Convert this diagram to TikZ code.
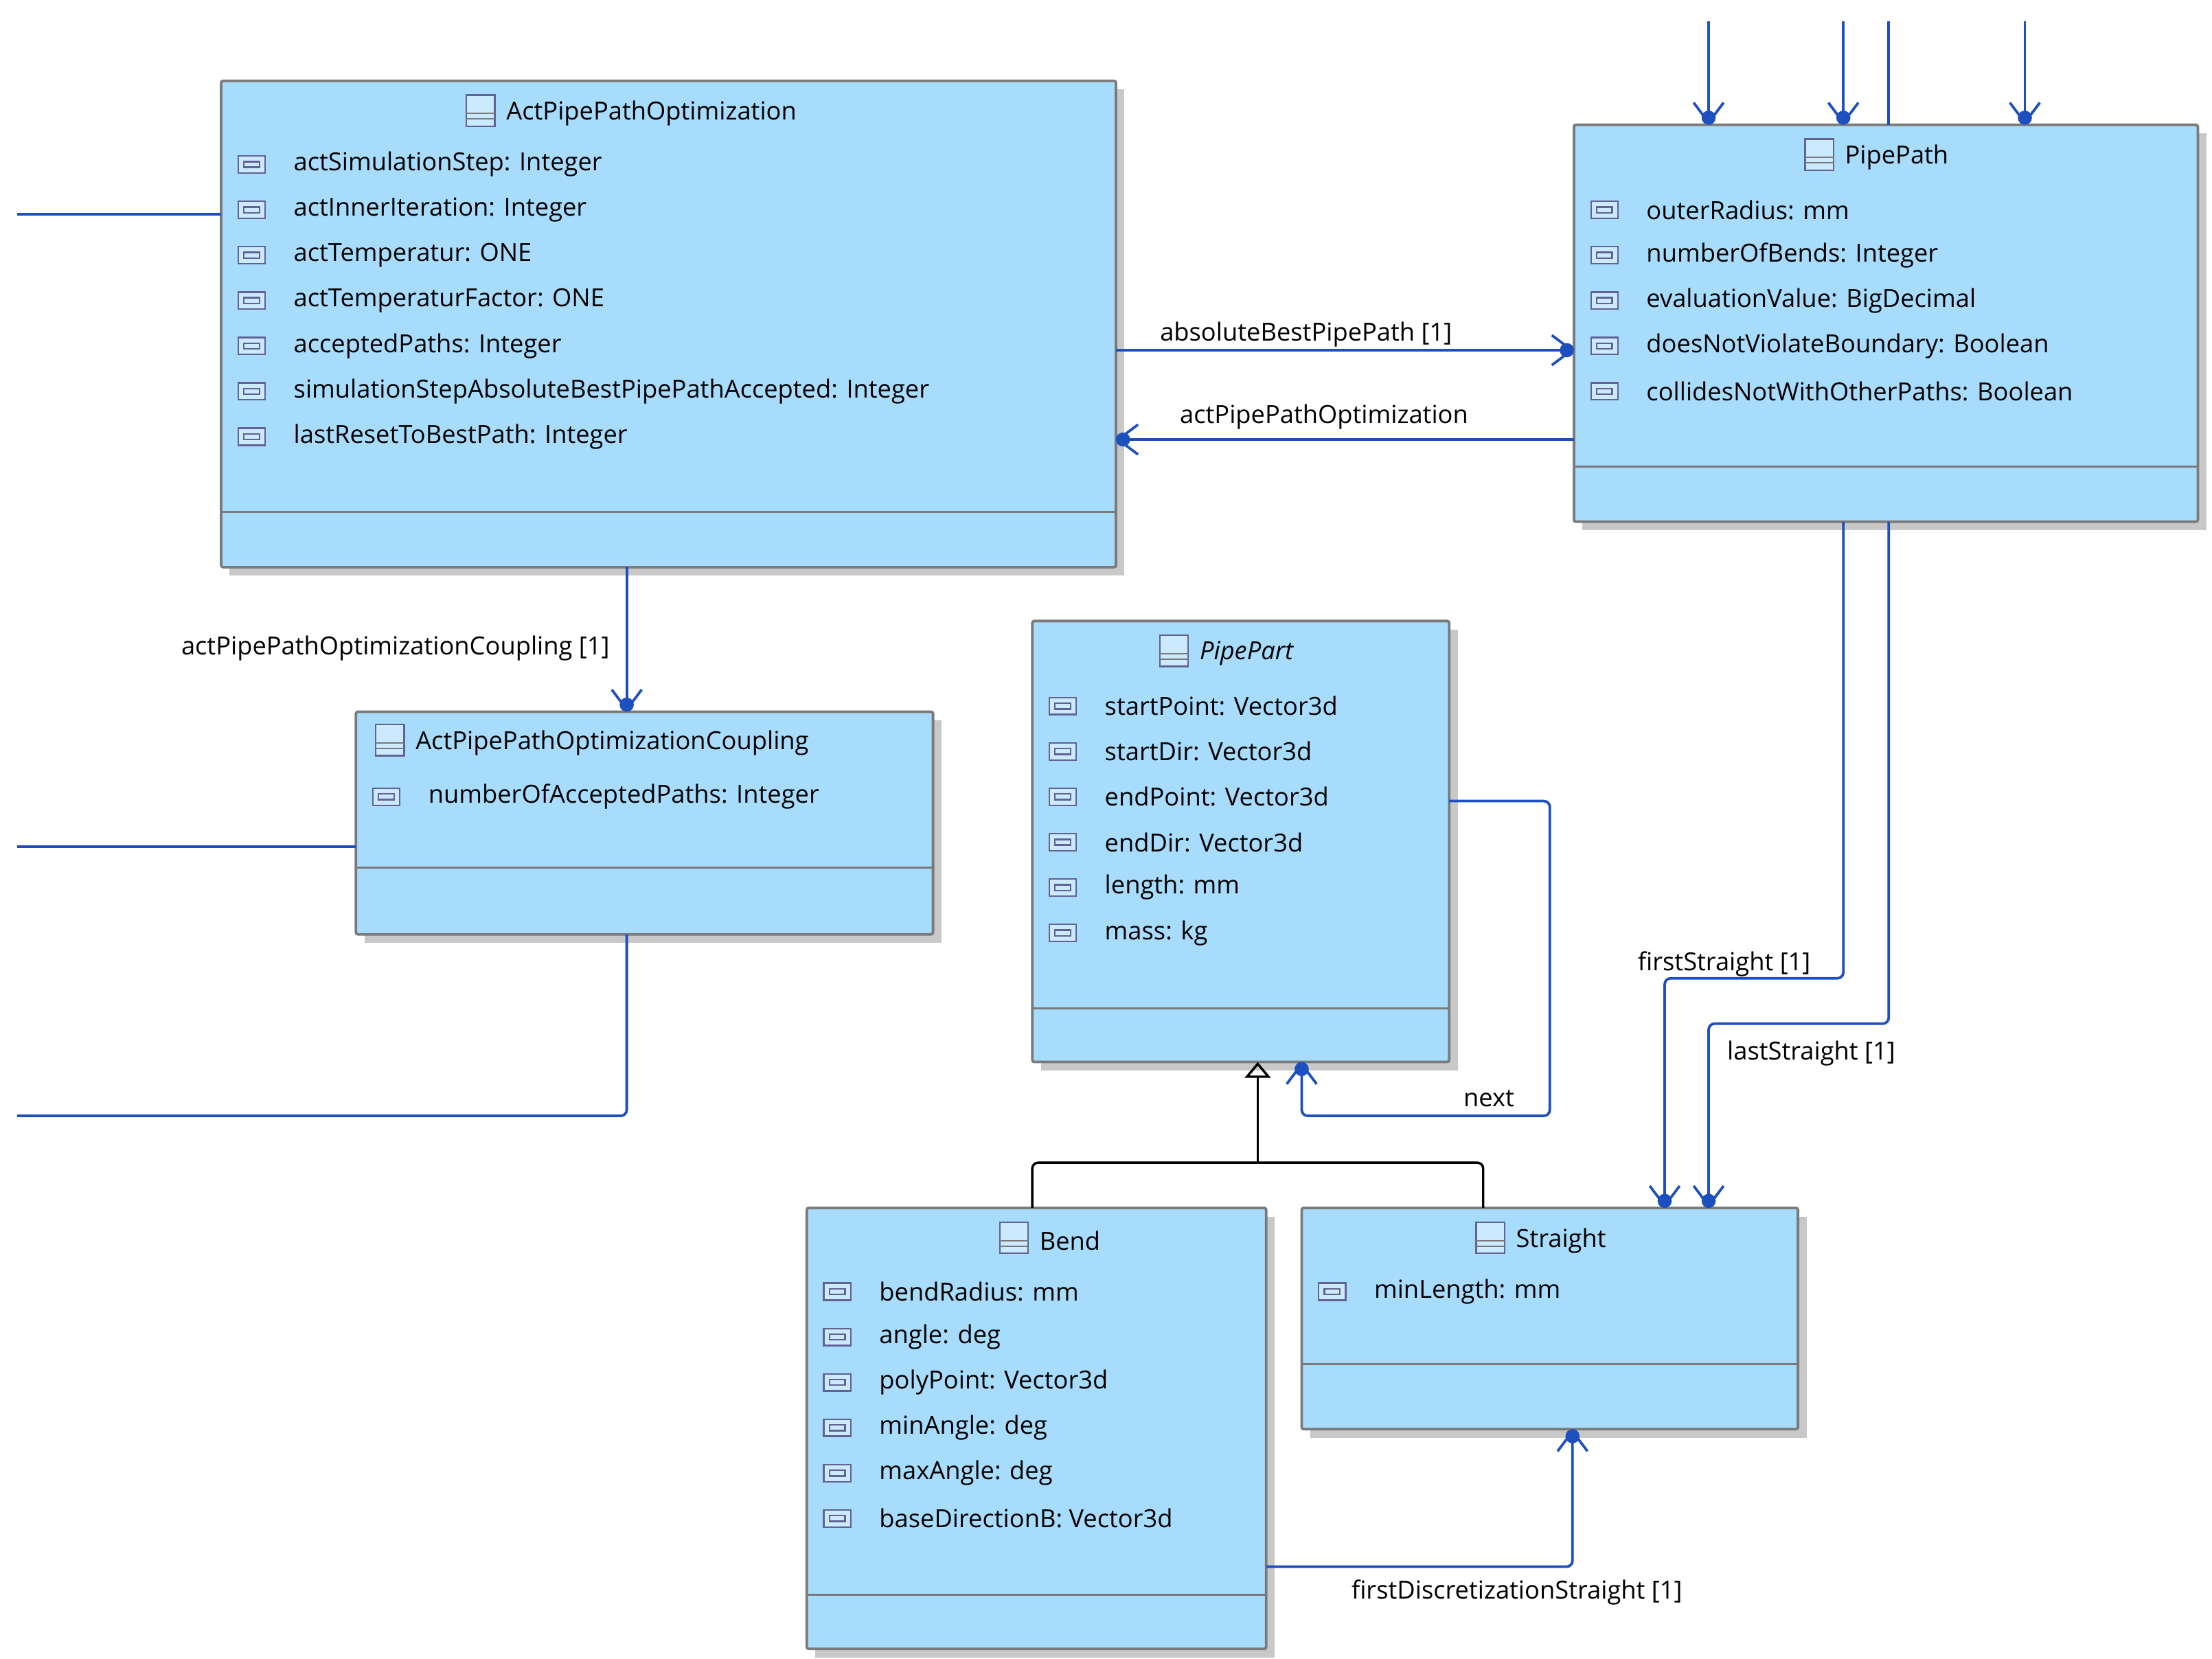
\documentclass[tikz,border=0pt]{standalone}
\usepackage{fontspec}
\setmainfont{Open Sans}
\usetikzlibrary{arrows.meta,calc}
\definecolor{cfill}{HTML}{A8DCFC}
\definecolor{cline}{HTML}{7A7A7A}
\definecolor{cblue}{HTML}{1E4FBF}
\definecolor{cshad}{HTML}{C8C8C8}
\begin{document}
\begin{tikzpicture}[x=0.05cm,y=-0.05cm,
  box/.style={draw=cline,fill=cfill,line width=2.6pt,inner sep=0pt,outer sep=0pt,rounded corners=2pt},
  sep/.style={draw=cline,line width=2pt},
  txt/.style={font=\fontsize{25}{30}\selectfont,inner sep=0pt,anchor=west},
  lbl/.style={font=\fontsize{25}{30}\selectfont,inner sep=0pt,text=black},
  conn/.style={draw=cblue,line width=2.6pt,rounded corners=6pt},
  nav/.style={conn,-{Straight Barb[length=20pt,width=30pt,line width=2.6pt]}},
  dot/.style={fill=cblue},
  icon/.style={draw=cline!80!blue,line width=1.6pt,fill=cfill!60!white}]
\useasboundingbox (0,0) rectangle (1560,1170);
\newcommand\mkbox[6]{% name, x1,y1,x2,y2
  \fill[cshad] (#2+6,#3+6) rectangle (#4+6,#5+6);
  \node[box,minimum width={(#4-#2)*0.05cm},minimum height={(#5-#3)*0.05cm}] (#1) at ({(#2+#4)/2},{(#3+#5)/2}) {};}
\newcommand\hsep[3]{\draw[sep] (#1,#3) -- (#2,#3);}
\newcommand\aicon[2]{\draw[icon] (#1,#2-6) rectangle (#1+19,#2+6); \draw[icon] (#1+4,#2-2) rectangle (#1+15,#2+2);}
\newcommand\cicon[2]{\draw[icon] (#1,#2-11) rectangle (#1+20,#2+11); \draw[cline,line width=1.4pt] (#1,#2+2)--(#1+20,#2+2) (#1,#2+6)--(#1+20,#2+6);}
\newcommand\attrs[3]{\foreach \t [count=\i from 0] in {#3} {\aicon{#1}{#2+32*\i}\node[txt] at (#1+39,#2+32*\i) {\t};}}
% ActPipePathOptimization
\mkbox{A}{156}{57}{787}{400}
\hsep{156}{787}{94}\hsep{156}{787}{361}
\cicon{329}{78}\node[txt] at (357,80) {ActPipePathOptimization};
\attrs{168}{116}{actSimulationStep: Integer,actInnerIteration: Integer,actTemperatur: ONE,actTemperaturFactor: ONE,acceptedPaths: Integer,simulationStepAbsoluteBestPipePathAccepted: Integer,lastResetToBestPath: Integer}
% PipePath
\mkbox{P}{1110}{88}{1550}{368}
\hsep{1110}{1550}{126}\hsep{1110}{1550}{329}
\cicon{1273}{109}\node[txt] at (1301,111) {PipePath};
\attrs{1122}{148}{outerRadius: mm,numberOfBends: Integer,evaluationValue: BigDecimal,doesNotViolateBoundary: Boolean,collidesNotWithOtherPaths: Boolean}
% Coupling
\mkbox{C}{251}{502}{658}{659}
\hsep{251}{658}{540}\hsep{251}{658}{612}
\cicon{265}{522}\node[txt] at (293,524) {ActPipePathOptimizationCoupling};
\attrs{263}{562}{numberOfAcceptedPaths: Integer}
% PipePart
\mkbox{PP}{728}{438}{1022}{749}
\hsep{728}{1022}{476}\hsep{728}{1022}{711}
\cicon{818}{459}\node[txt,font=\fontsize{25}{30}\selectfont\itshape] at (846,461) {PipePart};
\attrs{740}{498}{startPoint: Vector3d,startDir: Vector3d,endPoint: Vector3d,endDir: Vector3d,length: mm,mass: kg}
% Bend
\mkbox{B}{569}{852}{893}{1163}
\hsep{569}{893}{889}\hsep{569}{893}{1125}
\cicon{705}{873}\node[txt] at (733,875) {Bend};
\attrs{581}{911}{bendRadius: mm,angle: deg,polyPoint: Vector3d,minAngle: deg,maxAngle: deg,baseDirectionB: Vector3d}
% Straight
\mkbox{S}{918}{852}{1268}{1008}
\hsep{918}{1268}{889}\hsep{918}{1268}{962}
\cicon{1041}{873}\node[txt] at (1069,875) {Straight};
\attrs{930}{911}{minLength: mm}
% free ends
\coordinate (l1) at (12,151); \coordinate (l2) at (12,597); \coordinate (l3) at (12,787);
\foreach \x/\n in {1205/t1,1300/t2,1332/t3,1428/t4} {\coordinate (\n) at (\x,15);}
% connectors
\draw[conn] (l1) -- (A.west |- l1);
\draw[conn] (l2) -- (C.west |- l2);
\draw[conn] ($(C.south west)+(191,0)$) |- (l3);
\draw[nav] ($(A.south west)+(286,0)$) -- ($(C.north west)+(191,0)$);
\fill[dot] ($(C.north west)+(191,-5)$) circle (5);
\node[lbl,anchor=east] at (430,457) {actPipePathOptimizationCoupling [1]};
\draw[nav] ($(A.north east)+(0,190)$) -- ($(P.north west)+(0,159)$);
\fill[dot] ($(P.north west)+(-5,159)$) circle (5);
\node[lbl,anchor=south west] at (818,245) {absoluteBestPipePath [1]};
\draw[nav] ($(P.north west)+(0,222)$) -- ($(A.north east)+(0,253)$);
\fill[dot] ($(A.north east)+(5,253)$) circle (5);
\node[lbl,anchor=south west] at (832,303) {actPipePathOptimization};
\foreach \n/\x in {t1/95,t2/190,t4/318} {
  \draw[nav] (\n) -- ($(P.north west)+(\x,0)$);
  \fill[dot] ($(P.north west)+(\x,-5)$) circle (5);}
\draw[conn] (t3) -- ($(P.north west)+(222,0)$);
\draw[nav] ($(P.south west)+(190,0)$) -- (1300,690) -- (1174,690) -- ($(S.north west)+(256,0)$);
\fill[dot] ($(S.north west)+(256,-5)$) circle (5);
\node[lbl,anchor=east] at (1277,680) {firstStraight [1]};
\draw[nav] ($(P.south west)+(222,0)$) -- (1332,722) -- (1205,722) -- ($(S.north west)+(287,0)$);
\fill[dot] ($(S.north west)+(287,-5)$) circle (5);
\node[lbl,anchor=west] at (1218,743) {lastStraight [1]};
\draw[nav] ($(PP.north east)+(0,127)$) -- (1093,565) -- (1093,787) -- (918,787) -- ($(PP.south west)+(190,0)$);
\fill[dot] ($(PP.south west)+(190,5)$) circle (5);
\node[lbl] at (1050,775) {next};
\draw[nav] ($(B.north east)+(0,253)$) -- (1109,1105) -- ($(S.south west)+(191,0)$);
\fill[dot] ($(S.south west)+(191,5)$) circle (5);
\node[lbl,anchor=west] at (953,1123) {firstDiscretizationStraight [1]};
% generalization
\draw[line width=2.4pt,rounded corners=6pt] ($(B.north west)+(159,0)$) |- (887,820);
\draw[line width=2.4pt,rounded corners=6pt] ($(S.north west)+(128,0)$) |- (887,820);
\draw[line width=2.4pt,-{Triangle[open,length=16pt,width=26pt,line width=2.4pt]}] (887,820) -- ($(PP.south west)+(159,0)$);
\end{tikzpicture}
\end{document}
